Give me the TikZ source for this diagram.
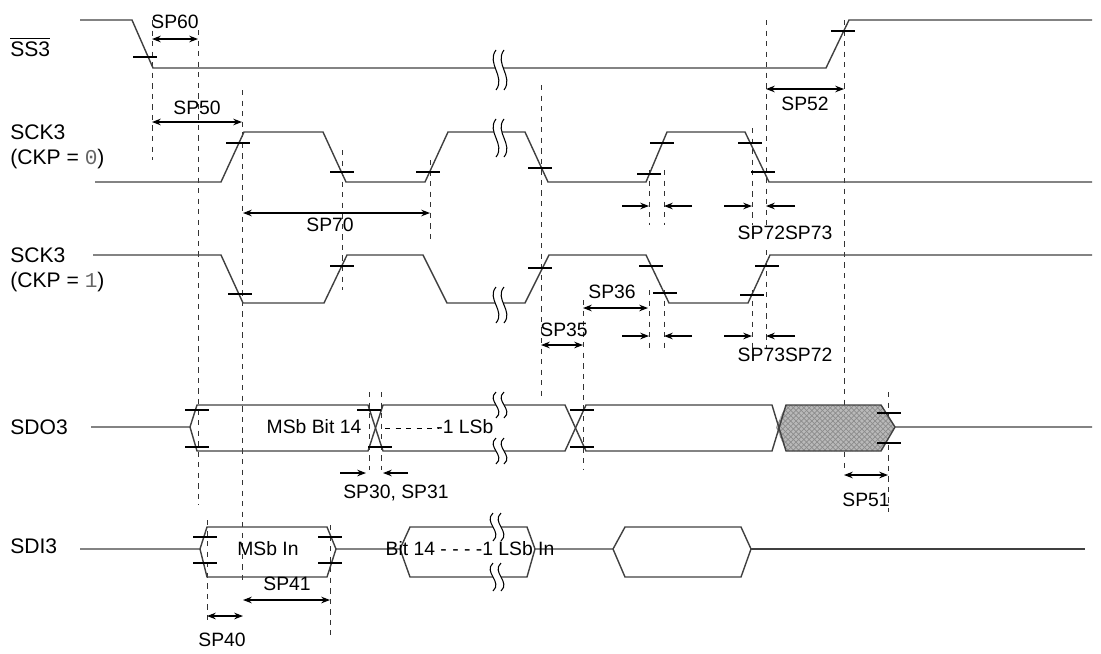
\documentclass[tikz,border=0pt]{standalone}
\usepackage{fontspec}
\setmainfont{Liberation Sans}
\setmonofont{Liberation Mono}
\usetikzlibrary{arrows.meta,patterns}
\begin{document}
\begin{tikzpicture}[x=0.02cm,y=-0.02cm,
  sig/.style={line width=0.8pt,draw=black!75},
  dsh/.style={dash pattern=on 3pt off 3pt,line width=0.5pt,draw=black!80},
  dim/.style={{Stealth[length=5pt]}-{Stealth[length=5pt]},line width=0.6pt},
  one/.style={-{Stealth[length=5pt]},line width=0.6pt},
  tk/.style={line width=0.6pt},
  lbl/.style={font=\fontsize{11}{13}\selectfont,inner sep=0pt},
  nm/.style={font=\fontsize{12}{14.5}\selectfont,inner sep=0pt,align=left,anchor=west}]
\useasboundingbox (0,0) rectangle (1101,653);
\newcommand{\brk}[3]{% x y halfheight
  \fill[white] (#1-4,#2-#3) .. controls (#1-14,#2-#3/3) and (#1+6,#2+#3/3) .. (#1-4,#2+#3) -- (#1+4,#2+#3) .. controls (#1+14,#2+#3/3) and (#1-6,#2-#3/3) .. (#1+4,#2-#3) -- cycle;
  \draw[line width=0.6pt] (#1-4,#2-#3) .. controls (#1-14,#2-#3/3) and (#1+6,#2+#3/3) .. (#1-4,#2+#3);
  \draw[line width=0.6pt] (#1+4,#2-#3) .. controls (#1-6,#2-#3/3) and (#1+14,#2+#3/3) .. (#1+4,#2+#3);}
\newcommand{\tck}[2]{\draw[tk] (#1-12,#2) -- (#1+12,#2);}
% dashed verticals
\draw[dsh] (152,20) -- (152,160);
\draw[dsh] (198,30) -- (198,505);
\draw[dsh] (242,90) -- (242,580);
\draw[dsh] (342,150) -- (342,290);
\draw[dsh] (430,160) -- (430,240);
\draw[dsh] (541,85) -- (541,400);
\draw[dsh] (583,300) -- (583,470);
\draw[dsh] (649,170) -- (649,225);
\draw[dsh] (664,170) -- (664,225);
\draw[dsh] (649,290) -- (649,348);
\draw[dsh] (664,290) -- (664,348);
\draw[dsh] (752,128) -- (752,225);
\draw[dsh] (766,20) -- (766,225);
\draw[dsh] (752,290) -- (752,348);
\draw[dsh] (766,250) -- (766,348);
\draw[dsh] (844,20) -- (844,470);
\draw[dsh] (888,392) -- (888,512);
\draw[dsh] (369,392) -- (369,470);
\draw[dsh] (381,392) -- (381,470);
\draw[dsh] (207,520) -- (207,622);
\draw[dsh] (330,525) -- (330,635);
% SS3
\node[nm] (lss) at (10,47) {$\overline{\mbox{SS3}}$};
\draw[sig] (80,20) -- (132,20) -- (153,68) -- (826,68) -- (849,20) -- (1092,20);
\tck{145}{57} \tck{843}{31}
\brk{500}{70}{20}
% SCK3 CKP=0
\node[nm] (lck0) at (10,147) {SCK3\\(CKP = {\ttfamily\color{black!60}0})};
\draw[sig] (95,182) -- (221,182) -- (244,132) -- (323,132) -- (346,182) -- (425,182) -- (448,132) -- (525,132) -- (548,182) -- (646,182) -- (667,132) -- (745,132) -- (769,182) -- (1092,182);
\tck{238}{143} \tck{342}{172} \tck{428}{172} \tck{540}{168} \tck{649}{174} \tck{662}{143} \tck{750}{143} \tck{763}{172}
\brk{500}{138}{19}
% SCK3 CKP=1
\node[nm] (lck1) at (10,270) {SCK3\\(CKP = {\ttfamily\color{black!60}1})};
\draw[sig] (93,255) -- (221,255) -- (243,303) -- (324,303) -- (347,255) -- (423,255) -- (447,303) -- (525,303) -- (549,255) -- (646,255) -- (669,303) -- (748,303) -- (770,255) -- (1092,255);
\tck{240}{294} \tck{342}{266} \tck{540}{268} \tck{651}{266} \tck{665}{293} \tck{752}{295} \tck{767}{266}
\brk{500}{305}{18}
% SDO3
\node[nm] (lsdo) at (10,427) {SDO3};
\fill[gray!55] (786,405) -- (881,405) -- (895,427) -- (881,451) -- (786,451) -- (776,427) -- cycle;
\fill[pattern=crosshatch,pattern color=black!45] (786,405) -- (881,405) -- (895,427) -- (881,451) -- (786,451) -- (776,427) -- cycle;
\draw[sig] (91,427) -- (190,427) -- (197,405) -- (368,405) -- (383,451) -- (565,451) -- (586,405) -- (772,405) -- (786,451) -- (881,451) -- (895,427) -- (1092,427);
\draw[sig] (190,427) -- (197,451) -- (368,451) -- (383,405) -- (565,405) -- (586,451) -- (772,451) -- (786,405) -- (881,405) -- (895,427);
\tck{197}{410} \tck{197}{447} \tck{369}{410} \tck{380}{447} \tck{582}{410} \tck{582}{447} \tck{889}{413} \tck{889}{443}
\brk{500}{405}{13} \brk{500}{451}{13}
\node[lbl] (msb) at (314,427) {MSb Bit 14};
\draw[dashed,line width=0.5pt] (385,428) -- (438,428);
\node[lbl,anchor=west] (lsb) at (436,427) {-1 LSb};
% SDI3
\node[nm] (lsdi) at (10,546) {SDI3};
\draw[sig] (80,549) -- (200,549) -- (207,527) -- (327,527) -- (336,549) -- (327,577) -- (207,577) -- (200,549);
\draw[sig] (336,549) -- (400,549) -- (410,527) -- (527,527) -- (535,549) -- (527,577) -- (410,577) -- (400,549);
\draw[sig] (535,549) -- (613,549) -- (625,527) -- (741,527) -- (751,549) -- (741,577) -- (625,577) -- (613,549);
\draw[sig] (751,549) -- (1085,549);
\tck{205}{537} \tck{205}{563} \tck{330}{537} \tck{330}{563}
\brk{497}{527}{14} \brk{497}{577}{14}
\node[lbl] (msbin) at (268,549) {MSb In};
\node[lbl] (bitin) at (470,549) {Bit 14 - - - -1 LSb In};
% dimension arrows
\draw[dim] (152,39) -- (198,39); \node[lbl] (t60) at (175,22) {SP60};
\draw[dim] (152,122) -- (242,122); \node[lbl] (t50) at (197,108) {SP50};
\draw[dim] (243,213) -- (430,213); \node[lbl] (t70) at (330,225) {SP70};
\draw[dim] (766,89) -- (844,89); \node[lbl] (t52) at (805,104) {SP52};
\draw[one] (622,206) -- (649,206); \draw[one] (692,206) -- (664,206);
\draw[one] (724,206) -- (752,206); \draw[one] (795,206) -- (766,206);
\node[lbl] (t7273) at (785,233) {SP72SP73};
\draw[dim] (583,308) -- (648,308); \node[lbl] (t36) at (612,292) {SP36};
\draw[dim] (541,345) -- (583,345); \node[lbl] (t35) at (564,330) {SP35};
\draw[one] (622,336) -- (649,336); \draw[one] (692,336) -- (664,336);
\draw[one] (724,336) -- (752,336); \draw[one] (795,336) -- (766,336);
\node[lbl] (t7372) at (785,355) {SP73SP72};
\draw[one] (340,473) -- (366,473); \draw[one] (408,473) -- (383,473);
\node[lbl] (t3031) at (396,493) {SP30, SP31};
\draw[dim] (844,475) -- (888,475); \node[lbl] (t51) at (866,500) {SP51};
\draw[dim] (243,600) -- (330,600); \node[lbl] (t41) at (287,584) {SP41};
\draw[dim] (207,616) -- (243,616); \node[lbl] (t40) at (222,640) {SP40};
\end{tikzpicture}
\end{document}
